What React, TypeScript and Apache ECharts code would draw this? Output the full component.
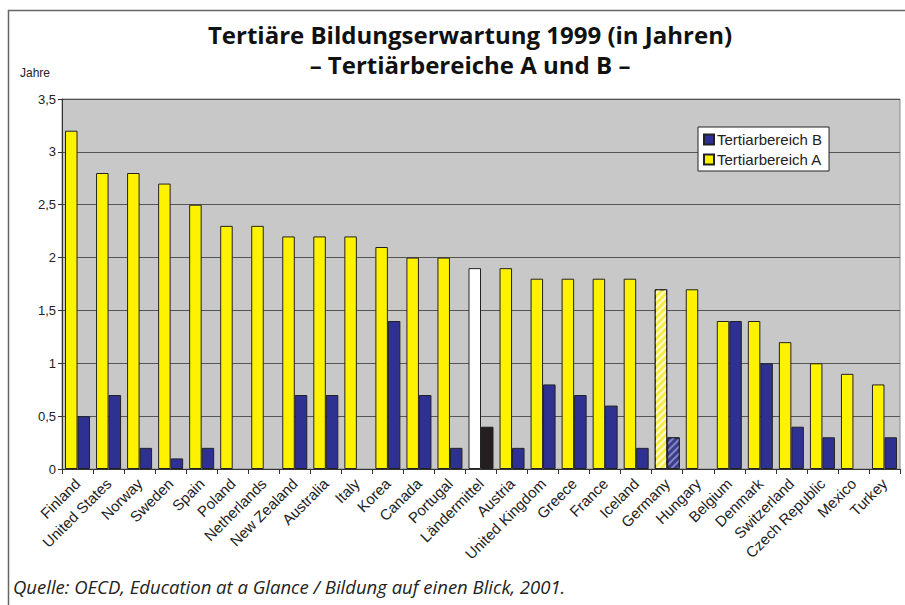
import React, { useEffect, useRef } from "react";
import * as echarts from "echarts";

const countries = [
  "Finland", "United States", "Norway", "Sweden", "Spain", "Poland", "Netherlands",
  "New Zealand", "Australia", "Italy", "Korea", "Canada", "Portugal", "Ländermittel",
  "Austria", "United Kingdom", "Greece", "France", "Iceland", "Germany", "Hungary",
  "Belgium", "Denmark", "Switzerland", "Czech Republic", "Mexico", "Turkey",
];
const tertiarA = [3.2, 2.8, 2.8, 2.7, 2.5, 2.3, 2.3, 2.2, 2.2, 2.2, 2.1, 2.0, 2.0, 1.9, 1.9, 1.8, 1.8, 1.8, 1.8, 1.7, 1.7, 1.4, 1.4, 1.2, 1.0, 0.9, 0.8];
const tertiarB = [0.5, 0.7, 0.2, 0.1, 0.2, null, null, 0.7, 0.7, null, 1.4, 0.7, 0.2, 0.4, 0.2, 0.8, 0.7, 0.6, 0.2, 0.3, null, 1.4, 1.0, 0.4, 0.3, null, 0.3];
const seriesNames = ["Tertiarbereich A", "Tertiarbereich B"];
const titleText = "Tertiäre Bildungserwartung 1999 (in Jahren)\n– Tertiärbereiche A und B –";
const sourceText = "Quelle: OECD, Education at a Glance / Bildung auf einen Blick, 2001.";
const averageName = "Ländermittel";
const germanyName = "Germany";

const YELLOW = "#fff200";
const BLUE = "#2e3192";

export default function App() {
  const ref = useRef<HTMLDivElement>(null);
  useEffect(() => {
    document.body.style.margin = "0";
    if (!ref.current) return;
    const chart = echarts.init(ref.current, null, { renderer: "svg" });
    const hatch = (c: string) => ({
      symbol: "rect",
      color: c,
      dashArrayX: [1, 0],
      dashArrayY: [2, 3],
      rotation: -Math.PI / 4,
      symbolSize: 1,
    });
    const aData = tertiarA.map((v, i) => {
      if (countries[i] === averageName) return { value: v, itemStyle: { color: "#ffffff" } };
      if (countries[i] === germanyName)
        return { value: v, itemStyle: { color: "#f6ea4a", decal: hatch("rgba(255,255,220,0.9)") } };
      return v;
    });
    const bData = tertiarB.map((v, i) => {
      if (v === null) return "-";
      if (countries[i] === averageName) return { value: v, itemStyle: { color: "#231f20" } };
      if (countries[i] === germanyName)
        return { value: v, itemStyle: { color: "#3a3d8f", decal: hatch("rgba(140,140,200,0.9)") } };
      return v;
    });
    chart.setOption({
      animation: false,
      textStyle: { fontFamily: "Liberation Sans, Arial, sans-serif" },
      title: {
        text: titleText,
        left: 465,
        textAlign: "center",
        top: 14,
        textStyle: {
          fontFamily: "Open Sans",
          fontSize: 24,
          fontWeight: "bold",
          lineHeight: 30,
          color: "#111",
        },
      },
      graphic: [
        {
          type: "rect",
          shape: { x: 8.5, y: 10.5, width: 910, height: 610 },
          style: { fill: "none", stroke: "#666", lineWidth: 1.5 },
          silent: true,
        },
        {
          type: "text",
          left: 20,
          top: 67,
          style: { text: "Jahre", fontSize: 12, fill: "#222", fontFamily: "Liberation Sans, Arial" },
        },
        {
          type: "text",
          left: 13,
          top: 577,
          style: {
            text: sourceText,
            fontSize: 18.5,
            fontStyle: "italic",
            fill: "#222",
            fontFamily: "Open Sans",
          },
        },
      ],
      legend: {
        data: ["Tertiarbereich B", "Tertiarbereich A"],
        orient: "vertical",
        left: 698,
        top: 127,
        itemWidth: 10,
        itemHeight: 10,
        itemGap: 5,
        padding: [5, 7, 4, 5],
        backgroundColor: "#ffffff",
        borderColor: "#222",
        borderWidth: 1,
        borderRadius: 0,
        icon: "rect",
        textStyle: { fontSize: 15, color: "#222", padding: [0, 0, 0, -2] },
      },
      grid: {
        left: 62,
        right: 5,
        top: 99,
        bottom: 136,
        show: true,
        backgroundColor: "#c8c8c8",
        borderColor: "#8a8a8a",
        borderWidth: 1,
      },
      xAxis: {
        type: "category",
        data: countries,
        axisTick: { show: true, alignWithLabel: false, length: 5, lineStyle: { color: "#333" } },
        axisLine: { lineStyle: { color: "#333", width: 1 } },
        axisLabel: {
          rotate: 45,
          interval: 0,
          fontSize: 15,
          color: "#222",
          margin: 12,
        },
      },
      yAxis: {
        type: "value",
        min: 0,
        max: 3.5,
        interval: 0.5,
        axisLine: { show: true, lineStyle: { color: "#333" } },
        axisTick: { show: true, length: 4, lineStyle: { color: "#333" } },
        axisLabel: {
          fontSize: 13,
          color: "#222",
          margin: 6,
          formatter: (v: number) => String(v).replace(".", ","),
        },
        splitLine: { lineStyle: { color: "#555", width: 1 } },
      },
      series: [
        {
          name: seriesNames[0],
          type: "bar",
          data: aData,
          barWidth: 12.5,
          barGap: "0%",
          itemStyle: { color: YELLOW, borderColor: "#222", borderWidth: 1 },
        },
        {
          name: seriesNames[1],
          type: "bar",
          data: bData,
          barWidth: 12.5,
          barGap: "0%",
          itemStyle: { color: BLUE, borderColor: "#222", borderWidth: 1 },
        },
      ],
    });
    return () => chart.dispose();
  }, []);
  return <div ref={ref} style={{ width: 905, height: 605 }} />;
}
